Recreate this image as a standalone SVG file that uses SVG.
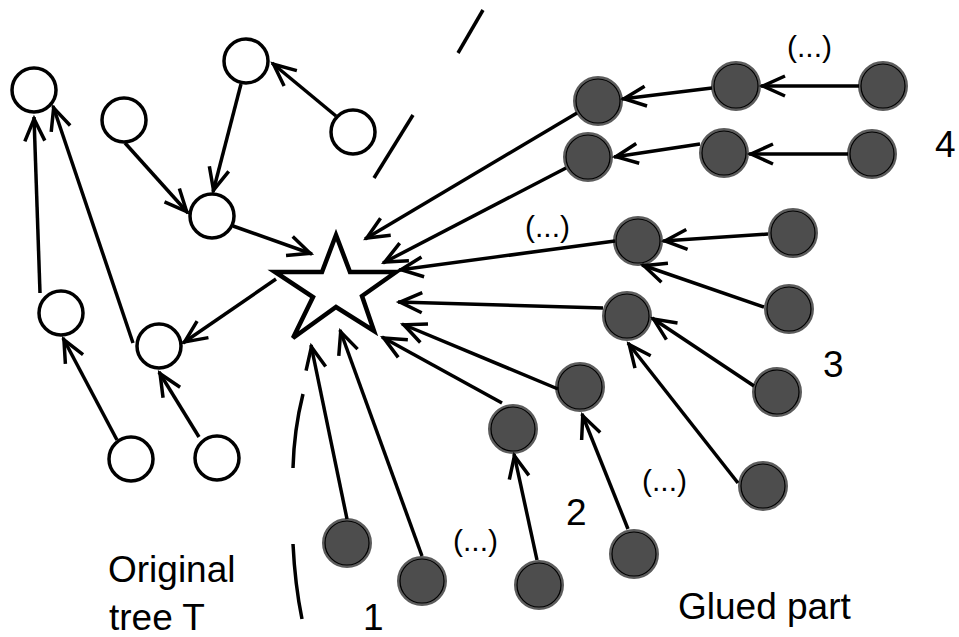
<svg xmlns="http://www.w3.org/2000/svg" width="959" height="637" viewBox="0 0 959 637">
<defs>
<style>
.w{fill:#fff;stroke:#000;stroke-width:3.5}
.g{fill:#4d4d4d;stroke:#5c5c5c;stroke-width:3}
.gi{fill:none;stroke:#000;stroke-width:1.2}
.c line{stroke:#000;stroke-width:3.5;marker-end:url(#ah)}
.d{fill:none;stroke:#000;stroke-width:3.5}
text{font-family:"Liberation Sans",Arial,sans-serif;fill:#000}
.big{font-size:37px}
.sm{font-size:30px}
</style>
<marker id="ah" markerUnits="userSpaceOnUse" markerWidth="40" markerHeight="40" refX="2" refY="0" orient="auto" overflow="visible">
<path d="M-22,-10 L0,0 L-22,10" fill="none" stroke="#000" stroke-width="3.5"/>
</marker>
</defs>
<rect width="959" height="637" fill="#fff"/>

<g id="star"><polygon points="336,235 350,272 396,272 362,296 374,331 336,307 293,338 313,297 275,272 322,272" fill="#fff" stroke="#000" stroke-width="4.5" stroke-linejoin="miter"/></g>

<g id="wA"><circle class="w" cx="34" cy="90" r="22"/></g>
<g id="wB"><circle class="w" cx="246" cy="61" r="22"/></g>
<g id="wC"><circle class="w" cx="124" cy="120" r="22"/></g>
<g id="wD"><circle class="w" cx="353" cy="132" r="22"/></g>
<g id="wE"><circle class="w" cx="212" cy="216" r="22"/></g>
<g id="wF"><circle class="w" cx="61" cy="313" r="22"/></g>
<g id="wG"><circle class="w" cx="159" cy="346" r="22"/></g>
<g id="wH"><circle class="w" cx="131" cy="459" r="22"/></g>
<g id="wI"><circle class="w" cx="217" cy="458" r="22"/></g>

<g id="g1"><circle class="g" cx="598" cy="101" r="23.5"/><circle class="gi" cx="598" cy="101" r="22"/></g>
<g id="g2"><circle class="g" cx="736" cy="86" r="23.5"/><circle class="gi" cx="736" cy="86" r="22"/></g>
<g id="g3"><circle class="g" cx="883" cy="86" r="23.5"/><circle class="gi" cx="883" cy="86" r="22"/></g>
<g id="g4"><circle class="g" cx="588" cy="157" r="23.5"/><circle class="gi" cx="588" cy="157" r="22"/></g>
<g id="g5"><circle class="g" cx="724" cy="153" r="23.5"/><circle class="gi" cx="724" cy="153" r="22"/></g>
<g id="g6"><circle class="g" cx="872" cy="154" r="23.5"/><circle class="gi" cx="872" cy="154" r="22"/></g>
<g id="g7"><circle class="g" cx="638" cy="241" r="23.5"/><circle class="gi" cx="638" cy="241" r="22"/></g>
<g id="g8"><circle class="g" cx="793" cy="233" r="23.5"/><circle class="gi" cx="793" cy="233" r="22"/></g>
<g id="g9"><circle class="g" cx="789" cy="309" r="23.5"/><circle class="gi" cx="789" cy="309" r="22"/></g>
<g id="g10"><circle class="g" cx="627" cy="316" r="23.5"/><circle class="gi" cx="627" cy="316" r="22"/></g>
<g id="g11"><circle class="g" cx="580" cy="387" r="23.5"/><circle class="gi" cx="580" cy="387" r="22"/></g>
<g id="g12"><circle class="g" cx="777" cy="392" r="23.5"/><circle class="gi" cx="777" cy="392" r="22"/></g>
<g id="g13"><circle class="g" cx="513" cy="429" r="23.5"/><circle class="gi" cx="513" cy="429" r="22"/></g>
<g id="g14"><circle class="g" cx="763" cy="486" r="23.5"/><circle class="gi" cx="763" cy="486" r="22"/></g>
<g id="g15"><circle class="g" cx="634" cy="554" r="23.5"/><circle class="gi" cx="634" cy="554" r="22"/></g>
<g id="g16"><circle class="g" cx="539" cy="585" r="23.5"/><circle class="gi" cx="539" cy="585" r="22"/></g>
<g id="g17"><circle class="g" cx="347" cy="543" r="23.5"/><circle class="gi" cx="347" cy="543" r="22"/></g>
<g id="g18"><circle class="g" cx="422" cy="581" r="23.5"/><circle class="gi" cx="422" cy="581" r="22"/></g>

<g id="connectors" class="c">
<line x1="336" y1="116" x2="272" y2="63"/>
<line x1="241" y1="84" x2="213" y2="192"/>
<line x1="125" y1="143" x2="188" y2="213"/>
<line x1="233" y1="226" x2="312" y2="254"/>
<line x1="276" y1="279" x2="183" y2="343"/>
<line x1="40" y1="293" x2="34" y2="117"/>
<line x1="133" y1="343" x2="53" y2="106"/>
<line x1="117" y1="440" x2="63" y2="338"/>
<line x1="199" y1="437" x2="159" y2="372"/>
<line x1="859" y1="86" x2="761" y2="86"/>
<line x1="712" y1="88" x2="622" y2="99"/>
<line x1="577" y1="113" x2="365" y2="239"/>
<line x1="848" y1="154" x2="749" y2="154"/>
<line x1="700" y1="144" x2="614" y2="157"/>
<line x1="566" y1="168" x2="383" y2="263"/>
<line x1="768" y1="234" x2="663" y2="241"/>
<line x1="764" y1="307" x2="642" y2="265"/>
<line x1="615" y1="241" x2="399" y2="270"/>
<line x1="603" y1="308" x2="398" y2="302"/>
<line x1="754" y1="386" x2="652" y2="318"/>
<line x1="738" y1="483" x2="628" y2="343"/>
<line x1="558" y1="389" x2="402" y2="324"/>
<line x1="502" y1="403" x2="382" y2="337"/>
<line x1="628" y1="529" x2="582" y2="414"/>
<line x1="537" y1="560" x2="514" y2="454"/>
<line x1="347" y1="519" x2="311" y2="345"/>
<line x1="422" y1="556" x2="340" y2="330"/>
</g>

<g id="divider">
<path class="d" d="M458,53 L483,10"/>
<path class="d" d="M374,178 L413,115"/>
<path class="d" d="M303,394 Q294,430 293,468"/>
<path class="d" d="M293,544 Q295,585 302,619"/>
</g>

<g id="labels">
<text class="big" x="108" y="582">Original</text>
<text class="big" x="109" y="630">tree T</text>
<text class="big" x="678" y="619">Glued part</text>
<text class="big" x="363" y="630">1</text>
<text class="big" x="566" y="525">2</text>
<text class="big" x="823" y="377">3</text>
<text class="big" x="935" y="157">4</text>
<text class="sm" x="787" y="57">(...)</text>
<text class="sm" x="525" y="237">(...)</text>
<text class="sm" x="453" y="551">(...)</text>
<text class="sm" x="642" y="491">(...)</text>
</g>
</svg>
